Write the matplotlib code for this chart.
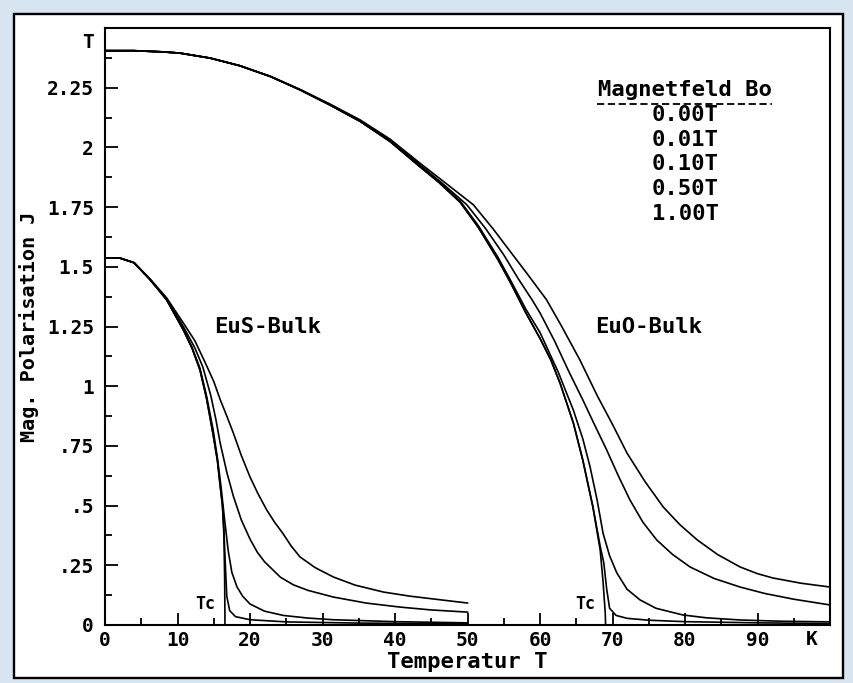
import matplotlib
matplotlib.use("Agg")
import matplotlib.pyplot as plt
from matplotlib.patches import Rectangle
from matplotlib.ticker import MultipleLocator, FixedLocator

plt.rcParams['font.family'] = ['DejaVu Sans Mono']
plt.rcParams['font.weight'] = 'bold'
plt.rcParams['axes.labelweight'] = 'bold'

# ---------------- data ----------------
field_labels = ["0.00T", "0.01T", "0.10T", "0.50T", "1.00T"]

x_ticks = [0, 10, 20, 30, 40, 50, 60, 70, 80, 90]
x_ticklabels = ["0", "10", "20", "30", "40", "50", "60", "70", "80", "90"]
y_ticks = [0, 0.25, 0.5, 0.75, 1.0, 1.25, 1.5, 1.75, 2.0, 2.25]
y_ticklabels = ["0", ".25", ".5", ".75", "1", "1.25", "1.5", "1.75", "2", "2.25"]

# EuO bulk
euo_T_b0 = [0, 4, 8, 10.3, 14.5, 18.6, 22.8, 26.9, 31, 35.2, 39.3, 43.4, 46, 49, 51.5,
            54.2, 56, 58, 60, 61.5, 62.8, 64.6, 65.9, 67.3, 68.3, 68.7, 69.0, 69.05]
euo_J_b0 = [2.405, 2.405, 2.40, 2.395, 2.374, 2.342, 2.297, 2.241, 2.178, 2.109, 2.025, 1.92, 1.855, 1.77, 1.665,
            1.53, 1.43, 1.31, 1.20, 1.11, 1.01, 0.846, 0.691, 0.494, 0.314, 0.18, 0.05, 0.0]

euo_T_b001 = [0, 4, 8, 10.3, 14.5, 18.6, 22.8, 26.9, 31, 35.2, 39.3, 43.4, 46, 49, 51.5,
              54.2, 56, 58, 60, 61.5, 62.8, 64.6, 65.9, 67.3, 68.3, 68.8, 69.2, 69.6, 70.5, 72, 75, 80, 90, 100]
euo_J_b001 = [2.405, 2.405, 2.40, 2.395, 2.374, 2.342, 2.297, 2.241, 2.178, 2.109, 2.025, 1.92, 1.855, 1.77, 1.665,
              1.53, 1.43, 1.31, 1.20, 1.11, 1.01, 0.846, 0.691, 0.494, 0.33, 0.26, 0.15, 0.07, 0.04, 0.028, 0.02, 0.014, 0.009, 0.006]

euo_T_b01 = [0, 4, 8, 10.3, 14.5, 18.6, 22.8, 26.9, 31, 35.2, 39.3, 43.4, 46, 49, 51.5,
             54.2, 56, 58, 60, 62.5, 64.6, 65.9, 66.9, 67.9, 68.7, 69.6, 70.6, 72, 73.8, 76, 79.7, 83, 87.6, 93, 100]
euo_J_b01 = [2.405, 2.405, 2.40, 2.395, 2.374, 2.342, 2.297, 2.241, 2.178, 2.109, 2.026, 1.922, 1.858, 1.775, 1.672,
             1.54, 1.44, 1.325, 1.225, 1.06, 0.90, 0.78, 0.663, 0.52, 0.384, 0.29, 0.218, 0.15, 0.105, 0.07, 0.042, 0.03, 0.021, 0.016, 0.013]

euo_T_b05 = [0, 4, 8, 10.3, 14.5, 18.6, 22.8, 26.9, 31, 35.2, 39.3, 43.4, 46.5, 49.9, 52.5, 55, 57,
             58.9, 60, 62, 64, 65.9, 67.5, 69.2, 70.8, 72.4, 74.2, 76.1, 78.3, 80.7, 84, 87.6, 91, 95, 100]
euo_J_b05 = [2.405, 2.405, 2.40, 2.395, 2.374, 2.342, 2.297, 2.242, 2.18, 2.112, 2.03, 1.928, 1.85, 1.76, 1.66, 1.55, 1.45,
             1.362, 1.307, 1.19, 1.06, 0.943, 0.84, 0.733, 0.625, 0.524, 0.43, 0.356, 0.295, 0.243, 0.195, 0.159, 0.132, 0.108, 0.084]

euo_T_b1 = [0, 4, 8, 10.3, 14.5, 18.6, 22.8, 26.9, 31, 35.2, 39.3, 43.4, 47, 50.8, 53.5, 56, 58.5,
            60.9, 63, 65.5, 67.9, 70, 72, 74.5, 77, 79.3, 81.7, 84.5, 87.6, 90, 92.1, 96, 100]
euo_J_b1 = [2.405, 2.405, 2.40, 2.395, 2.374, 2.342, 2.298, 2.243, 2.182, 2.115, 2.035, 1.935, 1.85, 1.76, 1.66, 1.56, 1.46,
            1.362, 1.25, 1.11, 0.96, 0.84, 0.72, 0.60, 0.494, 0.42, 0.356, 0.295, 0.243, 0.215, 0.197, 0.175, 0.159]

# EuS bulk
eus_T_b0 = [0, 2, 4, 6.2, 8.5, 10.8, 12, 13.1, 14, 14.9, 15.5, 15.9, 16.2, 16.4, 16.5, 16.55]
eus_J_b0 = [1.537, 1.537, 1.517, 1.447, 1.362, 1.236, 1.16, 1.068, 0.95, 0.80, 0.69, 0.58, 0.5, 0.38, 0.2, 0.0]

eus_T_b001 = [0, 2, 4, 6.2, 8.5, 10.8, 12, 13.1, 14, 14.9, 15.5, 15.9, 16.2, 16.4, 16.6, 16.8, 17.2, 18, 20, 25, 35, 50]
eus_J_b001 = [1.537, 1.537, 1.517, 1.447, 1.362, 1.236, 1.16, 1.068, 0.95, 0.80, 0.69, 0.58, 0.5, 0.40, 0.25, 0.12, 0.06, 0.035, 0.022, 0.013, 0.008, 0.005]

eus_T_b01 = [0, 2, 4, 6.2, 8.5, 10.8, 12, 13.1, 14, 14.9, 15.5, 16, 16.5, 17, 17.5, 18.2, 19, 20, 22, 24.6, 28, 31.5, 40, 50]
eus_J_b01 = [1.537, 1.537, 1.517, 1.447, 1.362, 1.238, 1.163, 1.075, 0.96, 0.82, 0.70, 0.58, 0.44, 0.31, 0.22, 0.16, 0.12, 0.088, 0.058, 0.04, 0.029, 0.022, 0.014, 0.009]

eus_T_b05 = [0, 2, 4, 6.2, 8.5, 10.8, 12.4, 13.5, 14.6, 15.3, 15.9, 16.8, 17.7, 18.8, 20, 21, 22, 24.2, 26, 28, 31.5, 36, 40.7, 45, 50]
eus_J_b05 = [1.537, 1.537, 1.517, 1.447, 1.366, 1.25, 1.16, 1.08, 0.96, 0.86, 0.76, 0.64, 0.54, 0.44, 0.36, 0.305, 0.265, 0.2, 0.168, 0.145, 0.117, 0.092, 0.075, 0.063, 0.054]

eus_T_b1 = [0, 2, 4, 6.2, 8.5, 10.8, 12.4, 13.8, 15, 15.9, 16.8, 17.7, 18.8, 20, 21.1, 22.3, 23.4, 24.5, 25.7, 26.9,
            29, 31.5, 34.5, 38.4, 42, 45.3, 50]
eus_J_b1 = [1.537, 1.537, 1.518, 1.45, 1.37, 1.265, 1.19, 1.10, 1.02, 0.943, 0.875, 0.804, 0.71, 0.62, 0.55, 0.482, 0.43, 0.385, 0.33, 0.285,
            0.24, 0.201, 0.167, 0.138, 0.121, 0.109, 0.092]

# ---------------- figure ----------------
fig = plt.figure(figsize=(8.54, 6.83), dpi=100)
fig.patch.set_facecolor('#d7e5f1')

bg = fig.add_axes([0, 0, 1, 1], zorder=0)
bg.set_xlim(0, 854)
bg.set_ylim(683, 0)
bg.axis('off')
bg.add_patch(Rectangle((14, 14), 843 - 14, 678 - 14, facecolor='white', edgecolor='black', linewidth=1.7))

ax = fig.add_axes([105 / 854, 1 - 625 / 683, (830 - 105) / 854, (625 - 28) / 683], zorder=2)
ax.set_facecolor('white')

lw = 1.2
for T, J in [(euo_T_b0, euo_J_b0), (euo_T_b001, euo_J_b001), (euo_T_b01, euo_J_b01),
             (euo_T_b05, euo_J_b05), (euo_T_b1, euo_J_b1),
             (eus_T_b0, eus_J_b0), (eus_T_b001, eus_J_b001), (eus_T_b01, eus_J_b01),
             (eus_T_b05, eus_J_b05), (eus_T_b1, eus_J_b1)]:
    ax.plot(T, J, color='black', linewidth=lw, solid_joinstyle='round')

ax.set_xlim(0, 100)
ax.set_ylim(0, 2.5)

ax.xaxis.set_major_locator(FixedLocator(x_ticks))
ax.set_xticklabels(x_ticklabels)
ax.xaxis.set_minor_locator(FixedLocator([5, 15, 25, 35, 45, 55, 65, 75, 85, 95]))
ax.yaxis.set_major_locator(FixedLocator(y_ticks))
ax.set_yticklabels(y_ticklabels)
ax.yaxis.set_minor_locator(MultipleLocator(0.125))

ax.tick_params(which='major', direction='in', length=9, width=1.3, labelsize=14, pad=8)
ax.tick_params(which='minor', direction='in', length=5, width=1.3)
ax.tick_params(axis='x', pad=4)
for sp in ax.spines.values():
    sp.set_linewidth(1.5)

ax.text(-1.5, 2.438, "T", ha='right', va='center', fontsize=14, clip_on=False)
ax.text(97.5, -0.022, "K", ha='center', va='top', fontsize=14, clip_on=False)

ax.set_xlabel("Temperatur T", fontsize=16, fontweight='bold', labelpad=2)
ax.set_ylabel("Mag. Polarisation J", fontsize=14.5, fontweight='bold', labelpad=6)

ax.text(22.5, 1.248, "EuS-Bulk", ha='center', va='center', fontsize=16)
ax.text(75.0, 1.248, "EuO-Bulk", ha='center', va='center', fontsize=16)
ax.text(13.8, 0.088, "Tc", ha='center', va='center', fontsize=12)
ax.text(66.2, 0.088, "Tc", ha='center', va='center', fontsize=12)

ax.text(80.0, 2.241, "Magnetfeld Bo", ha='center', va='center', fontsize=16)
ax.plot([67.8, 92.0], [2.183, 2.183], color='black', linewidth=1.3, linestyle=(0, (4, 2)))
for i, lab in enumerate(field_labels):
    ax.text(80.0, 2.137 - i * 0.104, lab, ha='center', va='center', fontsize=16)

fig.savefig("out.png", dpi=100, facecolor=fig.get_facecolor())
